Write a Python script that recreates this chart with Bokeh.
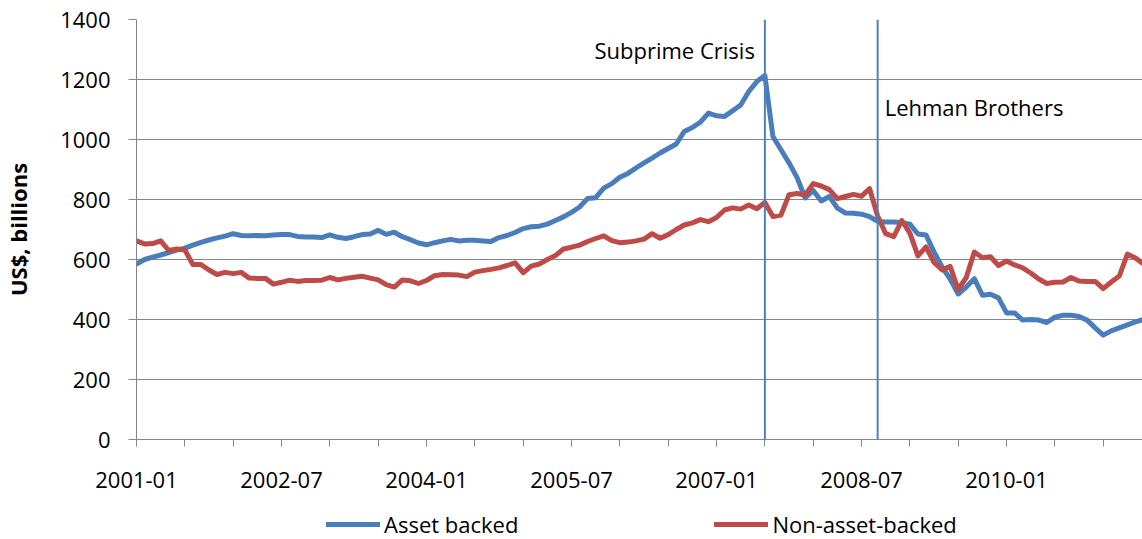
import pandas as pd
from bokeh.plotting import figure
from bokeh.layouts import column
from bokeh.models import Range1d, FixedTicker, Span, Label, Legend, LegendItem
from bokeh.embed import file_html
from bokeh.resources import INLINE

# ---------------- data (US$ billions, monthly from 2001-01) ----------------
start_month = "2001-01"

asset_backed = [
    585, 600, 608, 615, 623, 631, 638, 648, 657, 665, 672, 678,
    686, 680, 679, 680, 679, 682, 683, 683, 677, 675, 675, 673,
    682, 674, 670, 676, 683, 685, 697, 684, 691, 676, 666, 655,
    649, 656, 662, 667, 662, 664, 664, 662, 660, 673, 680, 690,
    703, 709, 711, 718, 730, 742, 757, 775, 803, 806, 838, 853,
    874, 887, 905, 922, 938, 955, 970, 985, 1027, 1040, 1058, 1088,
    1079, 1077, 1096, 1115, 1160, 1193, 1213, 1010, 966, 922, 873, 805,
    830, 795, 810, 771, 755, 754, 751, 743, 727, 725, 725, 723,
    718, 685, 682, 625, 575, 535, 485, 508, 536, 481, 484, 472,
    422, 422, 398, 400, 398, 390, 408, 414, 414, 410, 398, 372,
    348, 362, 372, 382, 392, 400,
]

non_asset_backed = [
    662, 652, 653, 662, 630, 635, 632, 583, 583, 565, 550, 557,
    553, 557, 538, 537, 537, 518, 524, 531, 527, 530, 530, 531,
    540, 532, 537, 541, 544, 538, 532, 516, 508, 532, 529, 520,
    530, 546, 550, 549, 548, 543, 558, 563, 567, 572, 580, 589,
    556, 578, 585, 600, 613, 635, 641, 648, 660, 670, 679, 663,
    656, 658, 662, 668, 686, 671, 683, 700, 715, 722, 733, 726,
    740, 765, 772, 768, 782, 769, 790, 743, 748, 816, 820, 815,
    853, 845, 833, 803, 810, 817, 811, 836, 745, 686, 676, 730,
    688, 612, 642, 590, 565, 577, 500, 540, 625, 606, 609, 580,
    595, 582, 572, 555, 535, 520, 524, 525, 540, 528, 527, 527,
    503, 525, 545, 618, 605, 585,
]

series_names = ["Asset backed", "Non-asset-backed"]
tick_labels = ["2001-01", "2002-07", "2004-01", "2005-07", "2007-01", "2008-07", "2010-01"]
y_ticks = [0, 200, 400, 600, 800, 1000, 1200, 1400]
events = ["Subprime Crisis", "Lehman Brothers"]
event_months = ["2007-07", "2008-09"]
event_label_values = [1300, 1108]

# ---------------- derived positions ----------------
months = [str(m) for m in pd.period_range(start=start_month, periods=len(asset_backed), freq="M")]
x = list(range(len(months)))
label_pos = [months.index(t) for t in tick_labels]
minor_pos = [i for i in x if i % 6 == 0]
event_pos = [months.index(m) for m in event_months]

FONT = "Open Sans"
GRID = "#868686"
BLUE = "#4A7EBB"
RED = "#BE4B48"
LW = 5

p = figure(
    frame_width=1007, frame_height=420,
    x_range=Range1d(0, len(months) - 1), y_range=Range1d(0, 1400),
    output_backend="svg", toolbar_location=None,
    min_border_left=135, min_border_right=0, min_border_top=19, min_border_bottom=68,
)
p.outline_line_color = None
p.background_fill_color = "white"
p.border_fill_color = "white"

p.line(x, asset_backed, line_color=BLUE, line_width=LW, line_join="round", line_cap="round")
p.line(x, non_asset_backed, line_color=RED, line_width=LW, line_join="round", line_cap="round")

for pos in event_pos:
    p.add_layout(Span(location=pos, dimension="height", line_color="#4F81BD", line_width=2))

p.add_layout(Label(x=event_pos[0], y=event_label_values[0], text=events[0], text_align="right",
                   text_baseline="alphabetic", x_offset=-10, text_font=FONT,
                   text_font_size="22px", text_color="black"))
p.add_layout(Label(x=event_pos[1], y=event_label_values[1], text=events[1], text_align="left",
                   text_baseline="alphabetic", x_offset=7, text_font=FONT,
                   text_font_size="22px", text_color="black"))

# x axis
xa = p.xaxis[0]
xa.ticker = FixedTicker(ticks=label_pos, minor_ticks=minor_pos)
xa.major_label_overrides = {pos: lab for pos, lab in zip(label_pos, tick_labels)}
xa.major_tick_out = 7
xa.major_tick_in = 0
xa.minor_tick_out = 7
xa.minor_tick_in = 0
xa.axis_line_color = GRID
xa.major_tick_line_color = GRID
xa.minor_tick_line_color = GRID
xa.major_label_text_font = FONT
xa.major_label_text_font_size = "22px"
xa.major_label_text_color = "black"
xa.major_label_standoff = 25

# y axis
ya = p.yaxis[0]
ya.ticker = FixedTicker(ticks=y_ticks, minor_ticks=[])
ya.major_tick_out = 8
ya.major_tick_in = 0
ya.axis_line_color = GRID
ya.major_tick_line_color = GRID
ya.major_label_text_font = FONT
ya.major_label_text_font_size = "22px"
ya.major_label_text_color = "black"
ya.major_label_standoff = 18
ya.axis_label = "US$, billions"
ya.axis_label_text_font = FONT
ya.axis_label_text_font_size = "22px"
ya.axis_label_text_font_style = "bold"
ya.axis_label_text_color = "black"
ya.axis_label_standoff = 24

p.xgrid.grid_line_color = None
p.ygrid.grid_line_color = GRID
p.ygrid.grid_line_width = 1

# ---------------- legend strip below the chart ----------------
lg = figure(
    width=1142, height=32, x_range=Range1d(0, 1), y_range=Range1d(0, 1),
    output_backend="svg", toolbar_location=None,
    min_border_left=135, min_border_right=0, min_border_top=0, min_border_bottom=0,
)
lg.axis.visible = False
lg.grid.visible = False
lg.outline_line_color = None
lg.border_fill_color = "white"
nan = float("nan")
lg_r1 = lg.line([nan], [nan], line_color=BLUE, line_width=LW, line_cap="round")
lg_r2 = lg.line([nan], [nan], line_color=RED, line_width=LW, line_cap="round")

legend = Legend(
    items=[LegendItem(label=series_names[0], renderers=[lg_r1]),
           LegendItem(label=series_names[1], renderers=[lg_r2])],
    orientation="horizontal", location=(190, 0),
    label_text_font=FONT, label_text_font_size="22px", label_text_color="black",
    glyph_width=54, glyph_height=16, label_height=16, label_standoff=4, spacing=196,
    border_line_color=None, background_fill_alpha=0, margin=0, padding=0,
)
lg.add_layout(legend, "center")

layout = column(p, lg, spacing=0)
open("out.html", "w").write(file_html(layout, INLINE))
